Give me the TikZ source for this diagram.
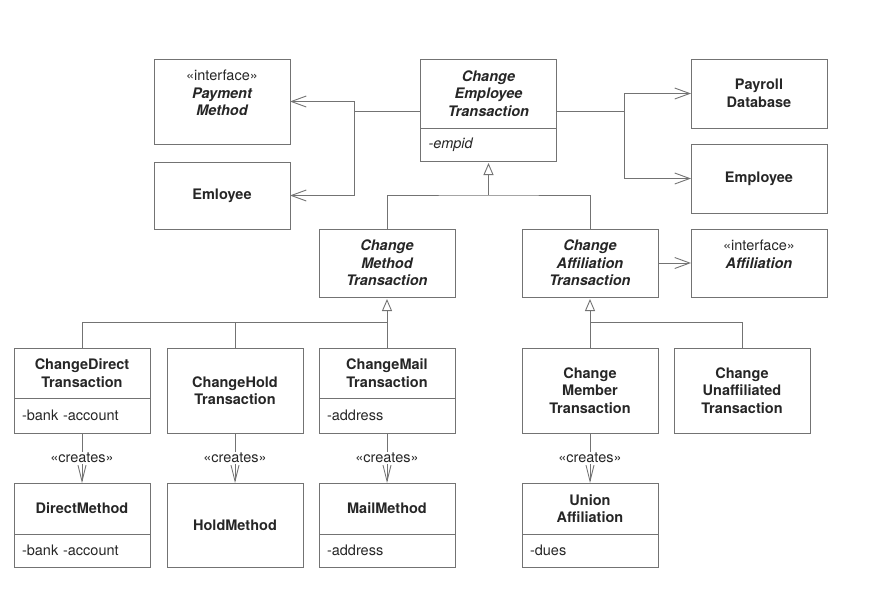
\documentclass[tikz,border=0pt]{standalone}
\usepackage{fontspec}
\setmainfont{TeX Gyre Heros}
\usetikzlibrary{arrows.meta,positioning}

\begin{document}
\begin{tikzpicture}[x=1pt,y=-1pt,
        line/.style={draw=black!55,line width=0.9pt},
        cls/.style={line,minimum width=136pt,inner sep=0pt,outer sep=0pt,
          align=center,text=black!85,font=\fontsize{14.5}{17.5}\selectfont\bfseries},
        abs/.style={cls,font=\fontsize{14.5}{17.5}\selectfont\bfseries\itshape},
        attr/.style={line,minimum width=136pt,text width=120pt,inner xsep=8pt,
          inner ysep=0pt,outer sep=0pt,align=left,text=black!85,
          font=\fontsize{14.5}{17.5}\selectfont},
        assoc/.style={line,-{Straight Barb[length=15pt,width=11pt]}},
        gen/.style={line,-{Triangle[open,length=12pt,width=10pt]},shorten >=2pt},
        dep/.style={line,-{Straight Barb[length=16pt,width=8pt]}},
        stereo/.style={fill=white,inner sep=1.5pt,text=black!85,
          font=\fontsize{14.5}{17.5}\selectfont}]
        \useasboundingbox (0,0) rectangle (881,606);

        \node[abs,minimum height=85pt] (pm) at (222,101.5)
          {{\mdseries\upshape «interface»}\\Payment\\Method\\\mbox{}};
        \node[cls,minimum height=67pt] (emloyee) at (222,195.5) {Emloyee};
        \node[abs,minimum height=69pt] (cet) at (488.5,93.5)
          {Change\\Employee\\Transaction};
        \node[attr,minimum height=33pt,below=0pt of cet] (cetattr) {\itshape -empid};
        \node[cls,minimum height=69pt] (db) at (759,93.5) {Payroll\\Database};
        \node[cls,minimum height=69pt] (employee) at (759,178.5) {Employee};
        \node[abs,minimum height=68pt] (aff) at (759,263)
          {{\mdseries\upshape «interface»}\\Affiliation\\\mbox{}};
        \node[abs,minimum height=68pt] (cmt) at (387,263)
          {Change\\Method\\Transaction};
        \node[abs,minimum height=68pt] (cat) at (590,263)
          {Change\\Affiliation\\Transaction};

        \node[cls,minimum height=50pt] (cdt) at (82,373) {ChangeDirect\\Transaction};
        \node[attr,minimum height=35pt,below=0pt of cdt] (cdtattr) {-bank -account};
        \node[cls,minimum height=85pt] (cht) at (235,390.5) {ChangeHold\\Transaction};
        \node[cls,minimum height=50pt] (cmlt) at (387,373) {ChangeMail\\Transaction};
        \node[attr,minimum height=35pt,below=0pt of cmlt] (cmltattr) {-address};
        \node[cls,minimum height=85pt] (cmbt) at (590,390.5)
          {Change\\Member\\Transaction};
        \node[cls,minimum height=85pt] (cut) at (742,390.5)
          {Change\\Unaffiliated\\Transaction};

        \node[cls,minimum height=51pt] (dm) at (82,508.5) {DirectMethod};
        \node[attr,minimum height=33pt,below=0pt of dm] (dmattr) {-bank -account};
        \node[cls,minimum height=84pt] (hm) at (235,525) {HoldMethod};
        \node[cls,minimum height=51pt] (mm) at (387,508.5) {MailMethod};
        \node[attr,minimum height=33pt,below=0pt of mm] (mmattr) {-address};
        \node[cls,minimum height=51pt] (ua) at (590,508.5) {Union\\Affiliation};
        \node[attr,minimum height=33pt,below=0pt of ua] (uaattr) {-dues};

        \coordinate (jl) at (354,111);
        \coordinate (jr) at (624,111);
        \draw[line] (cet.west |- jl) -- (jl);
        \draw[assoc] (jl) |- (pm.east);
        \draw[assoc] (jl) |- (emloyee.east);
        \draw[line] (cet.east |- jr) -- (jr);
        \draw[assoc] (jr) |- (db.west);
        \draw[assoc] (jr) |- (employee.west);
        \draw[assoc] (cat) -- (aff);

        \path (cetattr.south) ++(0,34) coordinate (g1);
        \draw[gen] (g1) -- (cetattr.south);
        \draw[line] (cmt.north) |- (g1) -| (cat.north);
        \path (cmt.south) ++(0,25) coordinate (g2);
        \draw[gen] (g2) -- (cmt.south);
        \draw[line] (cdt.north) |- (g2) -| (cmlt.north);
        \draw[line] (cht.north) -- (cht.north |- g2);
        \path (cat.south) ++(0,25) coordinate (g3);
        \draw[gen] (g3) -- (cat.south);
        \draw[line] (cmbt.north) |- (g3) -| (cut.north);

        \draw[dep] (cdtattr) -- node[stereo]{«creates»} (dm);
        \draw[dep] (cht) -- node[stereo]{«creates»} (hm);
        \draw[dep] (cmltattr) -- node[stereo]{«creates»} (mm);
        \draw[dep] (cmbt) -- node[stereo]{«creates»} (ua);
\end{tikzpicture}
\end{document}
